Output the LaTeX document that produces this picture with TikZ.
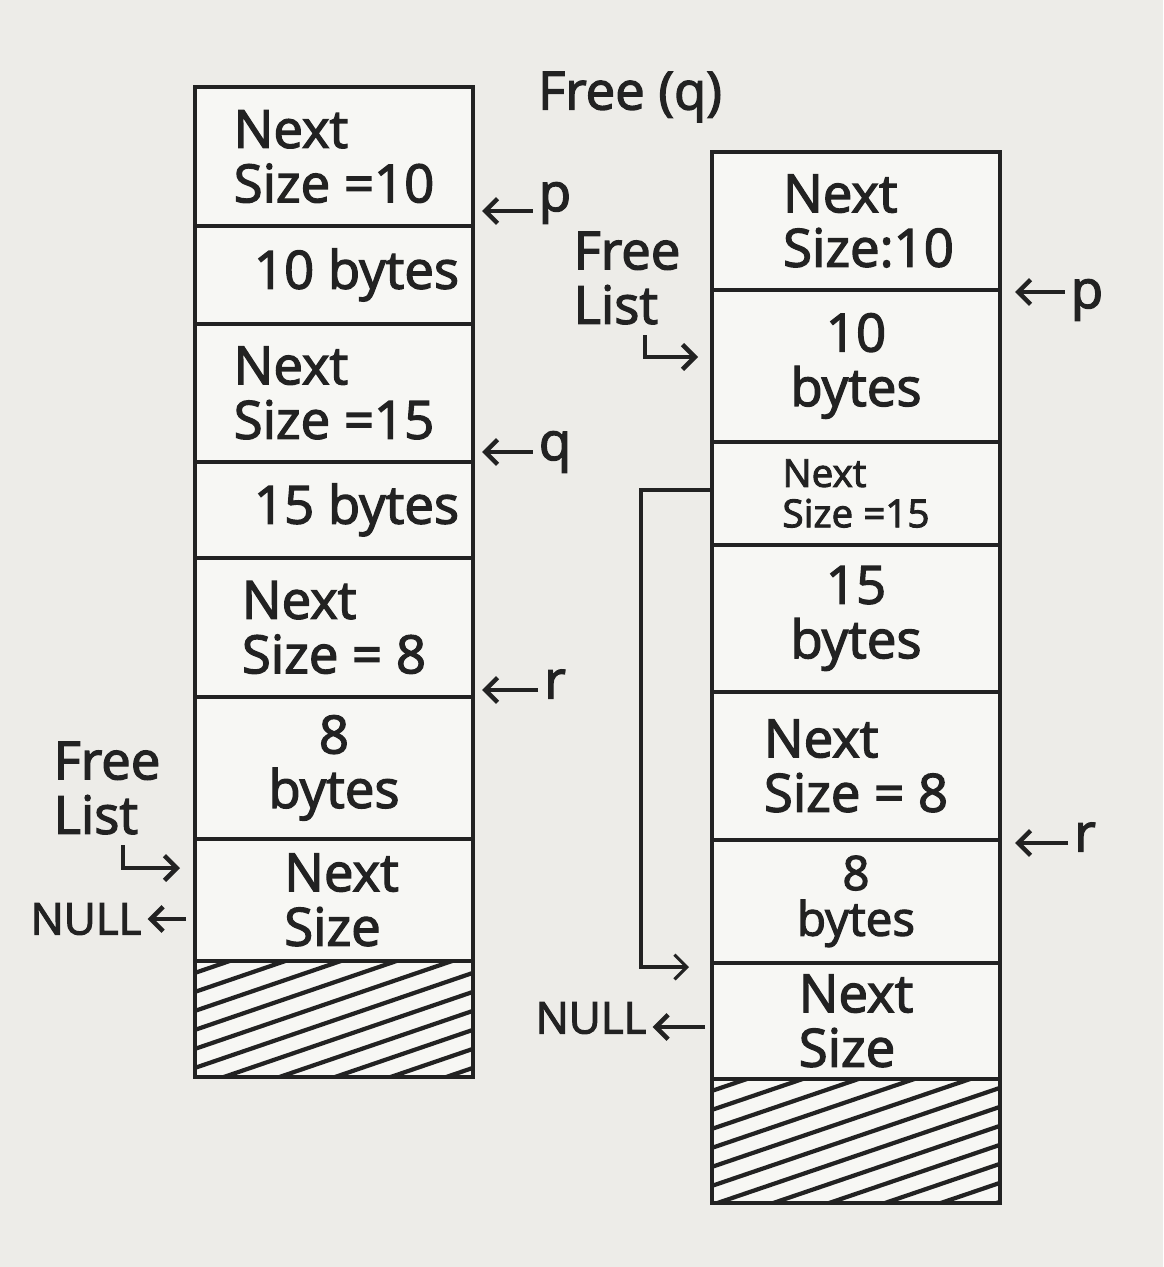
\documentclass[tikz,border=0pt]{standalone}
\usepackage{fontspec}
\setmainfont{Open Sans}[FakeBold=2.5]
\usepackage{xcolor}
\usepackage{tikz}
\usetikzlibrary{calc}
\usetikzlibrary{arrows.meta}
\usetikzlibrary{positioning}

\definecolor{paper}{HTML}{EDECE8}
\definecolor{cellbg}{HTML}{F7F7F4}
\definecolor{ink}{HTML}{222222}

\begin{document}
\begin{tikzpicture}[x=0.02cm,y=-0.02cm]
    \tikzstyle{every node}=[text=ink,font=\fontsize{30}{31}\selectfont]
    \tikzstyle{blk}=[draw=ink,fill=cellbg,line width=2.2pt,outer sep=0pt,inner sep=0pt,align=left]
    \tikzstyle{lcol}=[blk,minimum width=5.56cm]
    \tikzstyle{rcol}=[blk,minimum width=5.76cm]
    \tikzstyle{ptr}=[draw=ink,line width=2.6pt,-{Straight Barb[length=7pt,width=14pt]}]
    \tikzstyle{link}=[draw=ink,line width=1.8pt,-{Straight Barb[length=7pt,width=14pt]}]
    \tikzstyle{hatch}=[draw=ink,line width=2.4pt]

    \fill[paper] (0,0) rectangle (1163,1267);
    \useasboundingbox (0,0) rectangle (1163,1267);

    \node (title) at (630,97) {Free (q)};

    % before: left column
    \node[lcol,minimum height=2.78cm] (l1) at (334,156.5) {Next\\Size =10};
    \node[lcol,minimum height=1.96cm,below=0pt of l1] (l2) {\hspace*{0.9cm}10 bytes};
    \node[lcol,minimum height=2.76cm,below=0pt of l2] (l3) {Next\\Size =15};
    \node[lcol,minimum height=1.92cm,below=0pt of l3] (l4) {\hspace*{0.9cm}15 bytes};
    \node[lcol,minimum height=2.78cm,below=0pt of l4] (l5) {Next\\Size = 8};
    \node[lcol,minimum height=2.84cm,below=0pt of l5,align=center] (l6) {8\\bytes};
    \node[lcol,minimum height=2.44cm,below=0pt of l6] (l7) {\hspace*{0.3cm}Next\\\hspace*{0.3cm}Size};
    \node[lcol,minimum height=2.32cm,below=0pt of l7] (l8) {};
    \begin{scope}
      \clip (l8.north west) rectangle (l8.south east);
      \foreach \k in {0,...,11}
        \draw[hatch] ($(l8.north west)+(0,\k*19+12)$) -- +(278,-95);
    \end{scope}
    \draw[draw=ink,line width=2.2pt] (l8.north west) rectangle (l8.south east);

    \node (pL) at (555,203) {p};
    \node (qL) at (555,452) {q};
    \node (rL) at (555,684) {r};
    \coordinate (pLtip) at (482,211);
    \coordinate (qLtip) at (482,452);
    \coordinate (rLtip) at (482,690);
    \draw[ptr] (pL.west |- pLtip) -- (pLtip);
    \draw[ptr] (qL.west |- qLtip) -- (qLtip);
    \draw[ptr] (rL.west |- rLtip) -- (rLtip);

    \node[align=left] (flL) at (107,788) {Free\\List};
    \coordinate (flLa) at (123,845);
    \coordinate (flLb) at (180,868);
    \draw[ptr] (flLa) |- (flLb);
    \node[font=\fontsize{25}{26}\selectfont] (nullL) at (86,919) {NULL};
    \draw[ptr] ([xshift=-0.18cm]l7.west |- nullL) -- (nullL.east);

    % after: right column
    \node[rcol,minimum height=2.76cm] (r1) at (856,221) {\hspace*{0.5cm}Next\\\hspace*{0.5cm}Size:10};
    \node[rcol,minimum height=3.04cm,below=0pt of r1,align=center] (r2) {10\\bytes};
    \node[rcol,minimum height=2.06cm,below=0pt of r2,font=\fontsize{22}{23}\selectfont] (r3) {Next\\Size =15};
    \node[rcol,minimum height=2.94cm,below=0pt of r3,align=center] (r4) {15\\bytes};
    \node[rcol,minimum height=2.96cm,below=0pt of r4] (r5) {Next\\Size = 8};
    \node[rcol,minimum height=2.46cm,below=0pt of r5,align=center,font=\fontsize{27}{26}\selectfont] (r6) {8\\bytes};
    \node[rcol,minimum height=2.32cm,below=0pt of r6] (r7) {Next\\Size};
    \node[rcol,minimum height=2.48cm,below=0pt of r7] (r8) {};
    \begin{scope}
      \clip (r8.north west) rectangle (r8.south east);
      \foreach \k in {0,...,12}
        \draw[hatch] ($(r8.north west)+(0,\k*19+12)$) -- +(288,-98);
    \end{scope}
    \draw[draw=ink,line width=2.2pt] (r8.north west) rectangle (r8.south east);

    \node (pR) at (1087,300) {p};
    \node (rR) at (1085,837) {r};
    \coordinate (pRtip) at (1015,292);
    \coordinate (rRtip) at (1015,843);
    \draw[ptr] (pR.west |- pRtip) -- (pRtip);
    \draw[ptr] (rR.west |- rRtip) -- (rRtip);

    \node[align=left] (flR) at (627,278) {Free\\List};
    \coordinate (flRa) at (645,335);
    \coordinate (flRb) at (698,357);
    \draw[ptr] (flRa) |- (flRb);

    \coordinate (join) at (689,967);
    \draw[link] (r3.west |- 0,490) -- (641,490) |- (join);

    \node[font=\fontsize{25}{26}\selectfont] (nullR) at (591,1018) {NULL};
    \draw[ptr] ([xshift=-0.14cm]r7.west |- 0,1027) -- (nullR.east |- 0,1027);

  \end{tikzpicture}
\end{document}
